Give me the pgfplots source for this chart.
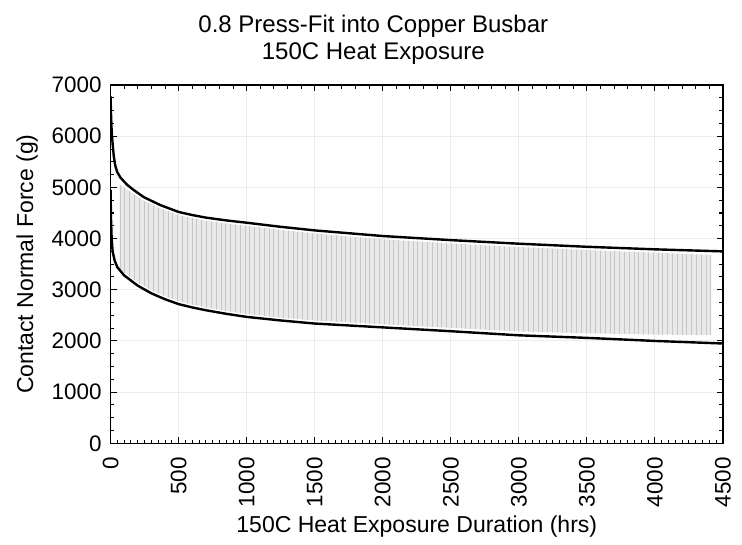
\documentclass[border=0pt]{standalone}
\usepackage{pgfplots}
\pgfplotsset{compat=1.18}
\usepackage{fontspec}
\setmainfont{Liberation Sans}
\usetikzlibrary{patterns.meta}
\begin{document}
\begin{tikzpicture}
\pgfplotsset{
  common/.style={
    scale only axis, width=306pt, height=179pt,
    xmin=0, xmax=4500, ymin=0, ymax=7000,
    tick align=inside,
    major tick length=3pt, minor tick length=1.8pt,
    axis line style={black, line width=0.7pt},
    every tick/.style={black, line width=0.5pt},
    /pgf/number format/assume math mode=true,
    /pgf/number format/1000 sep={},
    tick label style={font=\fontsize{11.2}{13}\selectfont},
  }
}
\begin{axis}[common,
  xtick={0,500,...,4500}, ytick={0,1000,...,7000},
  xtick pos=lower,
  minor x tick num=9, minor y tick num=3,
  grid=major, major grid style={gray!15, line width=0.5pt},
  xticklabel style={rotate=90, anchor=east, xshift=-3.5pt},
  yticklabel style={xshift=-1pt},
  xlabel={150C Heat Exposure Duration (hrs)},
  ylabel={Contact Normal Force (g)},
  every axis x label/.style={at={(rel axis cs:0.5,-0.232)}, anchor=center, font=\fontsize{11.5}{13}\selectfont},
  every axis y label/.style={at={(rel axis cs:-0.1363,0.5)}, rotate=90, anchor=center, font=\fontsize{11.5}{13}\selectfont},
  title={0.8 Press-Fit into Copper Busbar\\150C Heat Exposure},
  title style={at={(rel axis cs:0.429,1)}, anchor=south, align=center, inner sep=0pt, yshift=4pt, font=\fontsize{12}{13.7}\selectfont},
]
% hatched band
\addplot[draw=none, fill=gray!17, postaction={pattern={Lines[angle=90,distance=2.4pt,line width=0.45pt]}, pattern color=gray!45}] coordinates {
 (66,5060) (100,4995) (171,4870) (244,4740) (366,4590) (500,4460) (600,4400) (700,4350)
 (850,4295) (1000,4250) (1250,4170) (1500,4100) (2000,3985) (2500,3905) (3000,3835)
 (3500,3775) (4000,3725) (4413,3680)
 (4413,2112) (4000,2125) (3500,2150) (3000,2185) (2500,2255) (2000,2325) (1500,2400)
 (1250,2455) (1000,2525) (850,2585) (700,2655) (600,2710) (500,2775) (366,2910)
 (300,2990) (200,3140) (100,3340) (66,3420)
};
% upper curve
\addplot[black, line width=1.2pt] coordinates {
 (0,6780) (3,6450) (8,6100) (15,5850) (24,5600) (35,5420) (49,5300) (73,5190) (122,5050)
 (171,4947) (244,4810) (366,4654) (500,4520) (600,4460) (700,4410) (850,4355)
 (1000,4310) (1250,4230) (1500,4160) (2000,4050) (2500,3970) (3000,3900) (3500,3840)
 (4000,3790) (4500,3750)
};
% lower curve
\addplot[black, line width=1.2pt] coordinates {
 (0,4950) (3,4400) (8,4000) (15,3750) (30,3570) (50,3440) (100,3280) (200,3080)
 (300,2930) (400,2815) (500,2720) (600,2655) (700,2600) (850,2530) (1000,2470)
 (1250,2400) (1500,2340) (2000,2265) (2500,2190) (3000,2110) (3500,2060) (4000,2000)
 (4500,1950)
};
\end{axis}
\begin{axis}[common,
  xtick={0,500,...,4500}, ytick=\empty,
  xtick pos=upper, xticklabels={},
  minor x tick num=4,
]
\end{axis}
\pgfresetboundingbox
\path (current axis.south west) ++(-55.25pt,-50.5pt) coordinate (bl);
\path (current axis.north east) ++(9.5pt,42.5pt) coordinate (tr);
\useasboundingbox (bl) rectangle (tr);
\end{tikzpicture}
\end{document}
